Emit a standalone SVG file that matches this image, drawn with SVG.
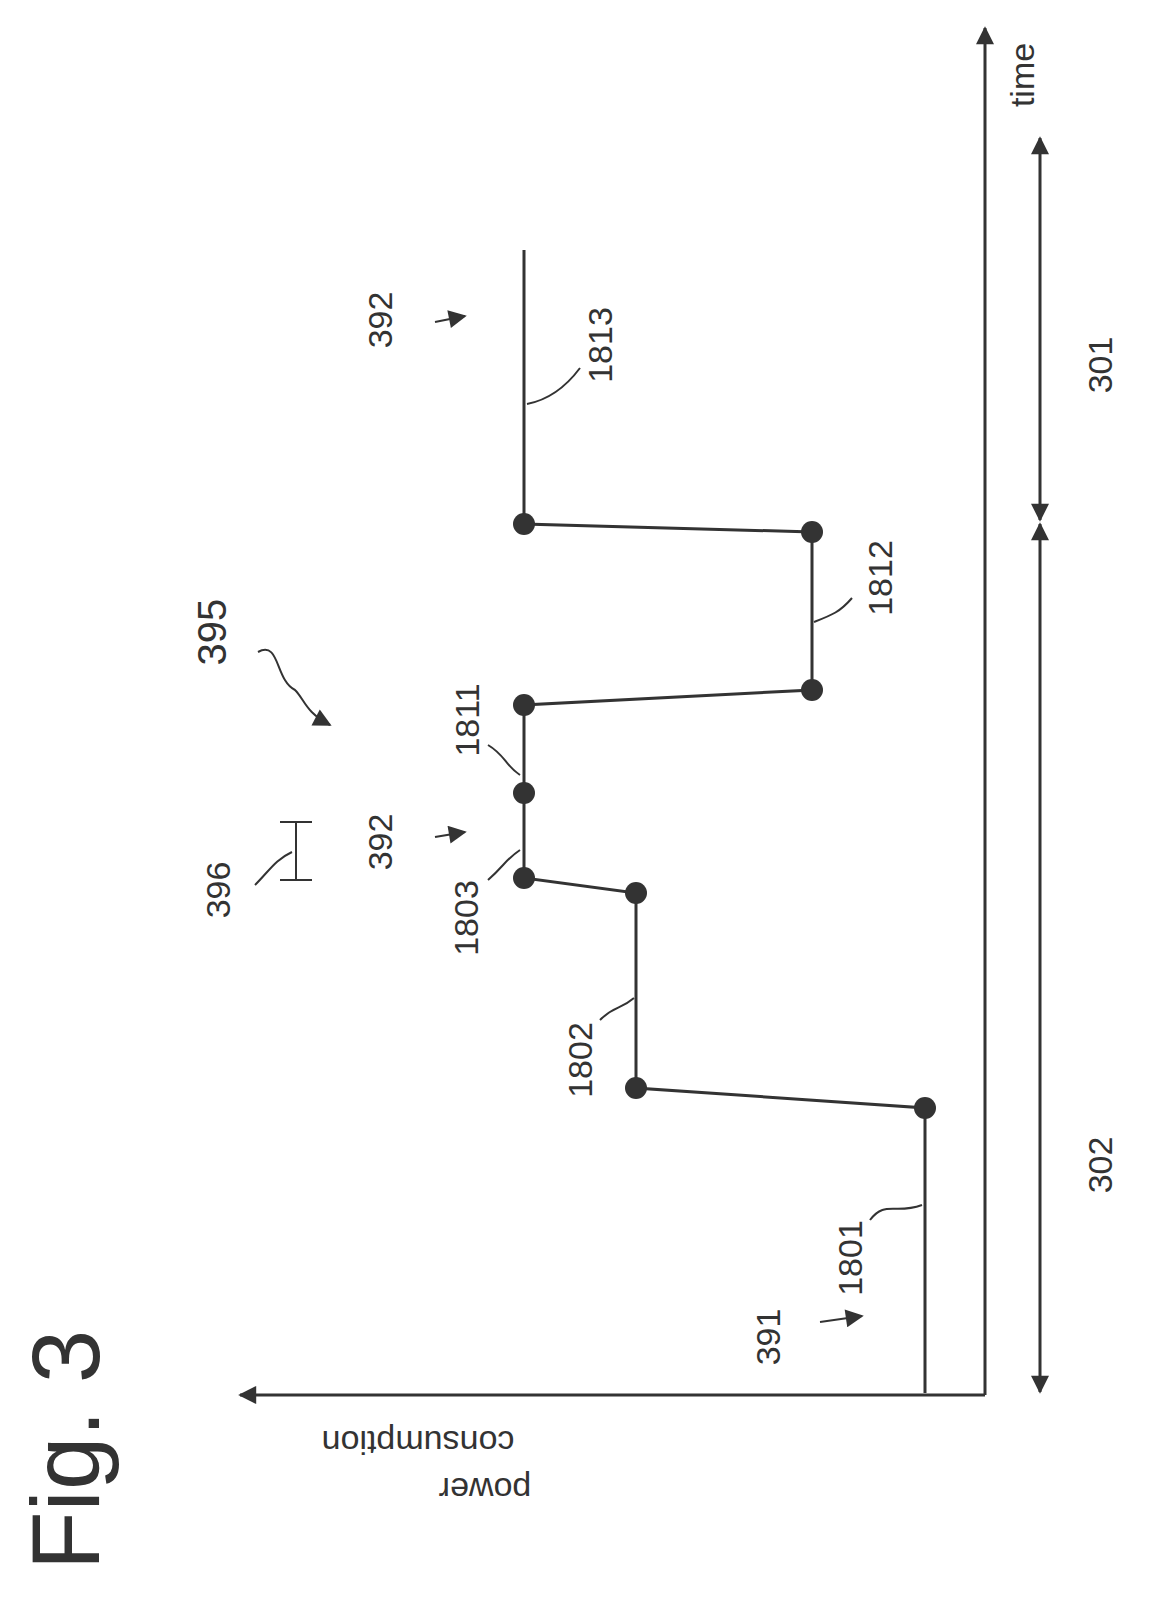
<svg xmlns="http://www.w3.org/2000/svg" width="1175" height="1607" viewBox="0 0 1175 1607">
<style>
.l{fill:none;stroke:#333;stroke-width:3}
.t{fill:none;stroke:#333;stroke-width:2}
.x{font-family:"Liberation Sans",Arial,sans-serif;font-size:34px;fill:#333;text-anchor:middle;dominant-baseline:central}
.d{fill:#333}
</style>
<defs>
<marker id="b" viewBox="0 0 10 10" refX="9" refY="5" markerWidth="28" markerHeight="18" markerUnits="userSpaceOnUse" orient="auto-start-reverse"><path d="M0,0 L10,5 L0,10 z" fill="#333"/></marker>
</defs>
<rect width="1175" height="1607" fill="#fff"/>
<g id="connectors">
<path class="l" d="M985,1395 L240,1395" marker-end="url(#b)"/>
<path class="l" d="M985,1395 L985,28" marker-end="url(#b)"/>
<path class="l" d="M1040,1392 L1040,524" marker-start="url(#b)" marker-end="url(#b)"/>
<path class="l" d="M1040,520 L1040,138" marker-start="url(#b)" marker-end="url(#b)"/>
<path class="l" d="M925,1393 L925,1108 L636,1088 L636,893 L524,878 L524,705 L812,690 L812,532 L524,524 L524,250"/>
<path class="t" d="M820,1322 L862,1316" marker-end="url(#b)"/>
<path class="t" d="M435,837 L465,832" marker-end="url(#b)"/>
<path class="t" d="M435,322 L465,316" marker-end="url(#b)"/>
<path class="t" d="M258,652 C280,640 275,680 295,690 C305,700 305,712 330,725" marker-end="url(#b)"/>
<path class="t" d="M870,1220 C885,1200 895,1215 922,1205"/>
<path class="t" d="M600,1020 C615,1005 620,1010 634,998"/>
<path class="t" d="M488,880 C505,865 505,860 520,850"/>
<path class="t" d="M488,745 C505,755 505,765 520,775"/>
<path class="t" d="M852,598 C840,612 832,615 814,622"/>
<path class="t" d="M580,368 C565,388 548,400 527,404"/>
<path class="t" d="M255,885 C270,870 275,860 292,852"/>
<path class="t" d="M280,880 L312,880 M280,822 L312,822 M296,822 L296,880"/>
</g>
<g id="dots">
<circle class="d" cx="925" cy="1108" r="11"/>
<circle class="d" cx="636" cy="1088" r="11"/>
<circle class="d" cx="636" cy="893" r="11"/>
<circle class="d" cx="524" cy="878" r="11"/>
<circle class="d" cx="524" cy="793" r="11"/>
<circle class="d" cx="524" cy="705" r="11"/>
<circle class="d" cx="812" cy="690" r="11"/>
<circle class="d" cx="812" cy="532" r="11"/>
<circle class="d" cx="524" cy="524" r="11"/>
</g>
<g id="labels">
<text class="x" transform="translate(65,1450) rotate(-90)" style="font-size:96px">Fig. 3</text>
<text class="x" transform="translate(485,1490) rotate(180)">power</text>
<text class="x" transform="translate(418,1443) rotate(180)">consumption</text>
<text class="x" transform="translate(1022,75) rotate(-90)">time</text>
<text class="x" transform="translate(768,1337) rotate(-90)">391</text>
<text class="x" transform="translate(850,1258) rotate(-90)">1801</text>
<text class="x" transform="translate(580,1060) rotate(-90)">1802</text>
<text class="x" transform="translate(466,918) rotate(-90)">1803</text>
<text class="x" transform="translate(380,842) rotate(-90)">392</text>
<text class="x" transform="translate(218,890) rotate(-90)">396</text>
<text class="x" transform="translate(467,720) rotate(-90)">1811</text>
<text class="x" transform="translate(212,632) rotate(-90)" style="font-size:40px">395</text>
<text class="x" transform="translate(880,578) rotate(-90)">1812</text>
<text class="x" transform="translate(600,345) rotate(-90)">1813</text>
<text class="x" transform="translate(380,320) rotate(-90)">392</text>
<text class="x" transform="translate(1100,365) rotate(-90)">301</text>
<text class="x" transform="translate(1100,1165) rotate(-90)">302</text>
</g>
</svg>
